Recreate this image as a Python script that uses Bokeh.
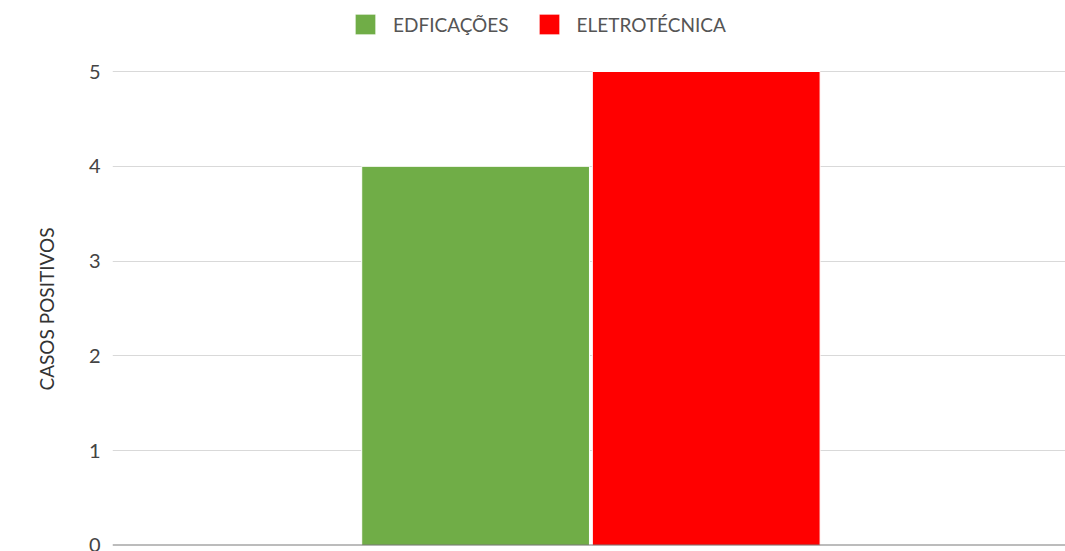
from bokeh.plotting import figure
from bokeh.models import Range1d, FixedTicker, Span, Legend, LegendItem, ColumnDataSource, Title
from bokeh.embed import file_html
from bokeh.resources import INLINE

# Data
series = ["EDFICAÇÕES", "ELETROTÉCNICA"]
values = [4, 5]
colors = ["#70AD47", "#FF0000"]
y_ticks = [0, 1, 2, 3, 4, 5]
y_label = "CASOS POSITIVOS"

FONT = "Lato"

p = figure(width=1065, height=551, output_backend="svg", toolbar_location=None,
           x_range=Range1d(0, 1), y_range=Range1d(0, 5.749),
           x_axis_type=None, min_border_left=112, min_border_right=0,
           min_border_top=0, min_border_bottom=6)
p.outline_line_color = None

center = 0.502
bar_w = 0.239
gap = 0.003
xs = [center - (bar_w + gap) / 2 + (bar_w + gap) * i for i in range(len(series))]

items = []
for i, (name, v, c) in enumerate(zip(series, values, colors)):
    src = ColumnDataSource(dict(x=[xs[i]], top=[v]))
    r = p.vbar(x="x", top="top", bottom=0, width=bar_w, source=src,
               fill_color=c, line_color="white", line_width=1)
    items.append(LegendItem(label=name, renderers=[r]))

# Axes / grid
p.yaxis.ticker = FixedTicker(ticks=y_ticks)
p.yaxis.axis_line_color = None
p.yaxis.major_tick_line_color = None
p.yaxis.minor_tick_line_color = None
p.yaxis.major_tick_out = 0
p.yaxis.major_label_standoff = 12
p.yaxis.major_label_text_font = FONT
p.yaxis.major_label_text_font_size = "20px"
p.yaxis.major_label_text_color = "#444444"

ylab = Title(text=y_label, align="left", offset=155, standoff=56,
             text_font=FONT, text_font_size="19px", text_font_style="normal",
             text_color="#333333")
p.add_layout(ylab, "left")

p.ygrid.grid_line_color = "#d9d9d9"
p.ygrid.grid_line_width = 1
p.xgrid.grid_line_color = None

base = Span(location=0, dimension="width", line_color="#7a7a7a", line_width=2)
p.add_layout(base)

legend = Legend(items=items, orientation="horizontal", location=(240, 508),
                margin=0, padding=0, spacing=27, label_standoff=15,
                glyph_width=26, glyph_height=26, label_height=26,
                label_text_font=FONT, label_text_font_size="19px",
                label_text_color="#555555",
                background_fill_alpha=0, border_line_alpha=0)
p.add_layout(legend, "center")

open("out.html", "w").write(file_html(p, INLINE))
